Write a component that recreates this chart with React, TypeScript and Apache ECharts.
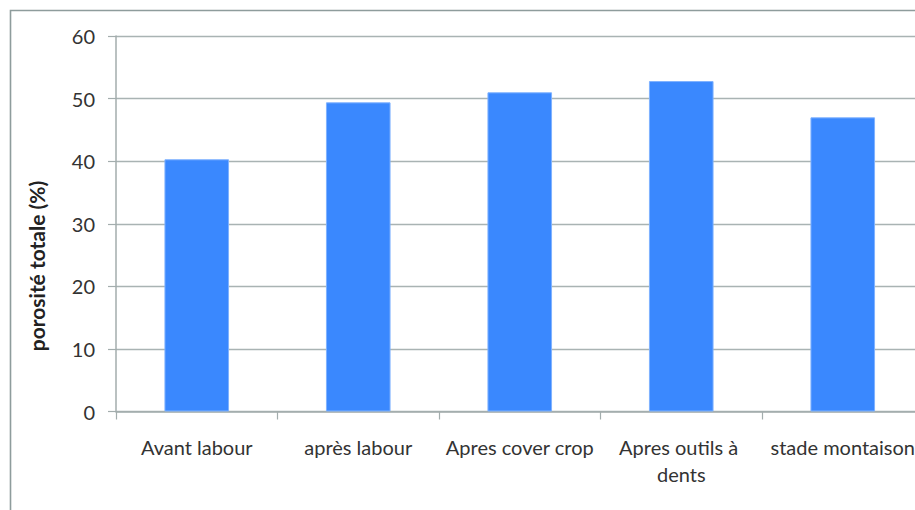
import React, { useEffect, useRef } from "react";
import * as echarts from "echarts";

// Porosité totale du sol selon le stade de travail
const categories = [
  "Avant labour",
  "après labour",
  "Apres cover crop",
  "Apres outils à dents",
  "stade montaison",
];
const porosity = [40.3, 49.4, 51.0, 52.8, 47.0];
const yTicks = { min: 0, max: 60, interval: 10 };
const yTitle = "porosité totale (%)";

const FONT = "Lato, 'Open Sans', sans-serif";

export default function App() {
  const ref = useRef<HTMLDivElement>(null);

  useEffect(() => {
    if (!ref.current) return;
    const chart = echarts.init(ref.current, null, { renderer: "svg" });
    chart.setOption({
      animation: false,
      backgroundColor: "#ffffff",
      // the plot runs past the right edge of the visible frame
      grid: { left: 116, top: 36, width: 807.5, height: 375.5 },
      xAxis: {
        type: "category",
        data: categories,
        axisLine: { lineStyle: { color: "#a3adad", width: 1.5 } },
        axisTick: { show: true, length: 8, lineStyle: { color: "#a3adad", width: 1.2 } },
        axisLabel: {
          color: "#333",
          fontFamily: FONT,
          fontSize: 20,
          lineHeight: 27,
          margin: 22,
          width: 150,
          overflow: "break",
          interval: 0,
        },
      },
      yAxis: {
        type: "value",
        min: yTicks.min,
        max: yTicks.max,
        interval: yTicks.interval,
        axisLine: { show: true, lineStyle: { color: "#a3adad", width: 1.5 } },
        axisTick: { show: true, length: 8, lineStyle: { color: "#a3adad", width: 1.2 } },
        axisLabel: { color: "#333", fontFamily: FONT, fontSize: 20, margin: 21 },
        splitLine: { lineStyle: { color: "#a9b3b3", width: 1.3 } },
      },
      series: [
        {
          type: "bar",
          data: porosity,
          barCategoryGap: "60%",
          itemStyle: { color: "#3a88fe", borderColor: "#7fb2ff", borderWidth: 1 },
        },
      ],
      graphic: [
        {
          type: "rect",
          shape: { x: 10.5, y: 10.5, width: 950, height: 530 },
          style: { fill: "none", stroke: "#8e9c9c", lineWidth: 1.6 },
          silent: true,
        },
        {
          type: "text",
          x: 36,
          y: 266,
          rotation: Math.PI / 2,
          style: {
            text: yTitle,
            fontFamily: FONT,
            fontSize: 21,
            fontWeight: "bold",
            fill: "#222",
            align: "center",
            verticalAlign: "middle",
          },
        },
      ],
    });
    return () => chart.dispose();
  }, []);

  return (
    <div
      style={{
        position: "absolute",
        left: 0,
        top: 0,
        width: 915,
        height: 510,
        overflow: "hidden",
      }}
    >
      <div ref={ref} style={{ width: 960, height: 510 }} />
    </div>
  );
}
